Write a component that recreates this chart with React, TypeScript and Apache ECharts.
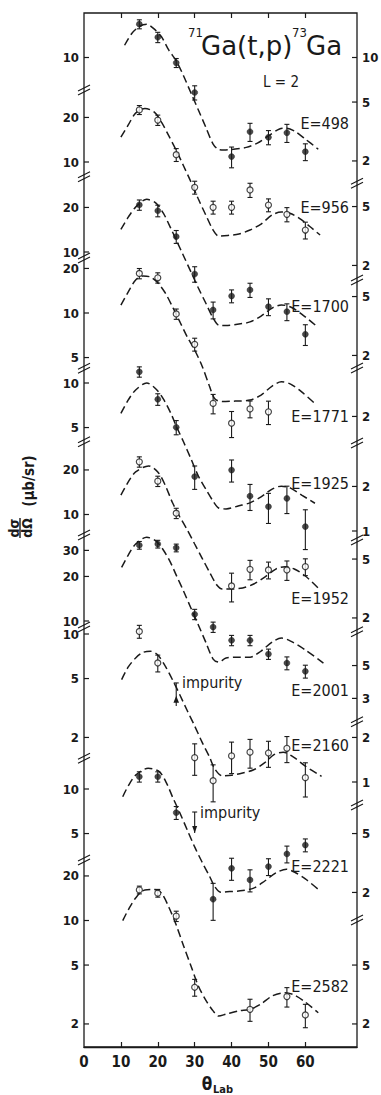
import { useEffect, useRef } from 'react';
import * as echarts from 'echarts';

// ---------------- data ----------------
const energyLabels = ['E=498', 'E=956', 'E=1700', 'E=1771', 'E=1925', 'E=1952', 'E=2001', 'E=2160', 'E=2221', 'E=2582'];
const openMarkers = [false, true, false, true, false, true, false, true, false, true];

const xTickValues = [10, 20, 30, 40, 50, 60];
const xLabelValues = [0, 10, 20, 30, 40, 50, 60];

// E = 498
const theta1 = [15, 20, 25, 30, 40, 45, 50, 55, 60];
const sigma1 = [16.8, 13.7, 9.2, 5.8, 2.14, 3.15, 2.89, 3.1, 2.31];
const err1 = [7, 8, 7, 11, 16, 14, 11, 14, 13];
const curveTheta1 = [11, 13, 15, 17, 19, 21, 23, 25, 27, 29, 31, 33, 35, 36.5, 38, 41, 44, 47, 50, 53, 55, 57, 60, 63.5];
const curveSigma1 = [12.1, 14.6, 16.2, 16.8, 15.6, 13.8, 11.2, 9.5, 7.5, 5.75, 4.42, 3.39, 2.6, 2.39, 2.37, 2.41, 2.47, 2.64, 2.95, 3.29, 3.33, 3.19, 2.81, 2.4];
const leftTicks1 = [10];
const rightTicks1 = [10, 5, 2];

// E = 956
const theta2 = [15, 20, 25, 30, 35, 40, 45, 50, 55, 60];
const sigma2 = [22.5, 19.2, 11.2, 6.74, 4.94, 4.94, 6.47, 5.12, 4.43, 3.47];
const err2 = [7, 8, 10, 10, 10, 10, 11, 10, 11, 13];
const curveTheta2 = [10, 12, 14, 16.5, 19, 21, 23, 25, 27, 29, 31, 33, 35, 36.5, 39, 42, 45, 48, 51, 53.5, 56, 59, 62, 64];
const curveSigma2 = [14.7, 17.8, 21.4, 23.0, 21.8, 18.6, 15.0, 12.0, 9.4, 7.33, 5.62, 4.39, 3.47, 3.16, 3.19, 3.26, 3.47, 3.81, 4.39, 4.59, 4.49, 4.06, 3.53, 3.21];
const leftTicks2 = [20, 10];
const rightTicks2 = [5, 2];

// E = 1700
const theta3 = [15, 20, 25, 30, 35, 40, 45, 50, 55, 60];
const sigma3 = [20.8, 19.0, 12.7, 7.1, 4.06, 5.04, 5.54, 4.27, 3.95, 2.78];
const err3 = [8, 9, 10, 12, 13, 10, 11, 13, 13, 16];
const curveTheta3 = [10, 12, 14, 17, 19.5, 21.5, 23.5, 25, 27, 29, 31, 33, 35, 36.5, 38.5, 42, 45, 48, 51, 53.5, 56, 59, 63];
const curveSigma3 = [14.2, 17.2, 20.1, 22.7, 21.4, 18.3, 14.5, 12.05, 9.4, 7.33, 5.71, 4.52, 3.58, 3.21, 3.19, 3.26, 3.37, 3.69, 4.18, 4.39, 4.25, 3.81, 3.16];
const leftTicks3 = [20, 10];
const rightTicks3 = [5, 2];

// E = 1771
const theta4 = [15, 20, 25, 30, 35, 40, 45, 50];
const sigma4 = [18.5, 17.3, 9.85, 6.14, 2.45, 1.8, 2.25, 2.15];
const err4 = [8, 8, 8, 10, 15, 20, 13, 18];
const curveTheta4 = [10, 12, 14, 16, 18, 20, 22, 24, 26, 28, 30, 32, 34, 35.5, 37.5, 41, 45, 48, 51, 53.5, 56, 59, 63];
const curveSigma4 = [11.3, 13.9, 16.7, 17.8, 17.5, 16.0, 13.7, 11.0, 8.7, 6.88, 5.62, 4.39, 3.21, 2.62, 2.52, 2.54, 2.58, 2.79, 3.21, 3.43, 3.31, 2.93, 2.39];
const leftTicks4 = [20, 10, 5];
const rightTicks4 = [2];

// E = 1925
const theta5 = [15, 20, 25, 30, 40, 45, 50, 55, 60];
const sigma5 = [11.9, 7.76, 5.02, 2.33, 2.58, 1.72, 1.46, 1.66, 1.07];
const err5 = [8, 9, 11, 18, 17, 20, 23, 21, 30];
const curveTheta5 = [10, 12, 14, 17, 19.5, 21.5, 23.5, 25, 27, 29, 31, 33, 35, 36.5, 38.5, 42, 45, 48, 51, 53.5, 56, 59, 62.6];
const curveSigma5 = [6.24, 7.68, 8.97, 10.0, 9.11, 7.8, 6.27, 5.12, 3.99, 3.07, 2.35, 1.92, 1.59, 1.43, 1.41, 1.48, 1.55, 1.7, 1.92, 2.01, 1.95, 1.75, 1.54];
const leftTicks5 = [10, 5];
const rightTicks5 = [2, 1];

// E = 1952
const theta6 = [15, 20, 25, 40, 45, 50, 55, 60];
const sigma6 = [22.7, 16.8, 10.2, 3.29, 4.26, 4.22, 4.22, 4.44];
const err6 = [8, 8, 8, 22, 15, 13, 15, 13];
const curveTheta6 = [10, 12, 14, 17.5, 20, 22, 24, 26, 28, 30, 32, 34, 36, 37.5, 40, 43, 46, 49, 52, 54.5, 57, 60, 64];
const curveSigma6 = [13.5, 16.6, 19.4, 21.3, 19.4, 15.8, 12.0, 9.62, 7.86, 6.32, 5.08, 4.09, 3.34, 3.14, 3.14, 3.19, 3.39, 3.78, 4.28, 4.44, 4.28, 3.84, 3.09];
const leftTicks6 = [20, 10];
const rightTicks6 = [5, 2];

// E = 2001
const theta7 = [15, 20, 25, 30, 35, 40, 45, 50, 55, 60];
const sigma7 = [32.5, 33.1, 31.2, 11.1, 9.1, 7.4, 7.4, 5.98, 5.2, 4.57];
const err7 = [6, 6, 6, 8, 8, 8, 8, 8, 10, 10];
const curveTheta7 = [10.2, 12, 14, 17, 19.5, 21.5, 23.5, 25, 27, 29, 31, 33, 35, 36.5, 38.5, 42, 45, 48, 51, 53.5, 56, 60, 64.9];
const curveSigma7 = [23.0, 27.9, 33.1, 36.8, 34.7, 30.2, 24.7, 20.4, 15.9, 12.2, 9.4, 7.2, 5.53, 5.28, 5.62, 5.7, 5.7, 6.27, 7.2, 7.67, 7.32, 6.37, 5.2];
const leftTicks7 = [30, 20, 10];
const rightTicks7 = [5, 3];

// E = 2160
const theta8 = [15, 20, 30, 35, 40, 45, 50, 55, 60];
const sigma8 = [10.4, 6.37, 1.46, 1.02, 1.5, 1.59, 1.57, 1.69, 1.07];
const err8 = [10, 13, 24, 28, 24, 22, 20, 20, 26];
const curveTheta8 = [10.2, 12, 14, 16, 18, 20, 22, 24, 26, 28, 30, 32, 34, 35.5, 37.5, 40, 43, 46, 49, 51.5, 54, 57, 60, 64.4];
const curveSigma8 = [4.92, 5.99, 6.89, 7.51, 7.65, 7.22, 6.08, 4.9, 3.87, 3.03, 2.39, 1.86, 1.48, 1.22, 1.1, 1.11, 1.15, 1.21, 1.35, 1.53, 1.59, 1.46, 1.28, 1.09];
const leftTicks8 = [10, 5, 2];
const rightTicks8 = [2, 1];

// E = 2221
const theta9 = [15, 20, 25, 35, 40, 45, 50, 55, 60];
const sigma9 = [12.1, 12.1, 6.92, 1.8, 2.91, 2.43, 2.99, 3.64, 4.18];
const err9 = [8, 8, 10, 28, 17, 17, 13, 13, 10];
const curveTheta9 = [10.5, 12, 14, 17.4, 20.4, 22.5, 24, 26, 28, 30, 32, 34, 35.5, 37, 40, 43, 46, 49, 52, 54.9, 57, 60, 63.5];
const curveSigma9 = [8.87, 10.5, 12.4, 13.8, 13.1, 10.8, 8.83, 6.88, 5.28, 4.06, 3.21, 2.58, 2.18, 2.01, 2.03, 2.06, 2.14, 2.39, 2.71, 2.87, 2.75, 2.47, 2.1];
const leftTicks9 = [10, 5];
const rightTicks9 = [5, 2];

// E = 2582
const theta10 = [15, 20, 25, 30, 45, 55, 60];
const sigma10 = [16.1, 15.3, 10.7, 3.54, 2.51, 3.06, 2.3];
const err10 = [6, 6, 8, 13, 17, 15, 18];
const curveTheta10 = [10.5, 12, 14, 16.5, 19, 21, 23, 25, 27, 29, 31, 33, 35, 36.5, 38.5, 42, 45, 48, 51, 54.5, 57, 60, 63.5];
const curveSigma10 = [9.97, 11.8, 14.2, 16.1, 16.2, 15.3, 12.3, 9.32, 6.73, 4.93, 3.61, 2.9, 2.45, 2.26, 2.33, 2.45, 2.51, 2.73, 3.09, 3.25, 3.14, 2.81, 2.38];
const leftTicks10 = [20, 10, 5, 2];
const rightTicks10 = [5, 2];

// "impurity" markers (panel index, angle, bar top, bar bottom, head value, head direction)
const impurityPanel = [7, 8];
const impurityTheta = [25, 30];
const impurityTop = [4.67, 6.99];
const impurityBottom = [3.26, 5.04];
const impurityHead = [3.59, 5.04];
const impurityDir = [-1, 1];

// ---------------- layout ----------------
const W = 381;
const H = 1095;
const PLOT = { left: 84, top: 13, width: 273, height: 1034 };
const X_MAX = 74;
const DECADE_PX = 148;
const panelTenPx = [57.5, 162, 252, 313, 383, 514.5, 621, 634, 789, 920.5];
const labelPx = [123, 207.7, 306, 416.7, 483.3, 598.3, 690, 745, 866.7, 986.7];
const leftBreakPx = [90, 176.7, 258, 368.3, 441.7, 535, 627, 758.3, 860];
const rightBreakPx = [183.3, 280, 368, 443, 540, 631.7, 721.7, 805, 920];

const INK = '#1a1a1a';
const FONT = '"DejaVu Sans Condensed", "DejaVu Sans", sans-serif';
const FONT_WIDE = '"DejaVu Sans", sans-serif';

const panels = [
  { theta: theta1, sigma: sigma1, err: err1, ct: curveTheta1, cs: curveSigma1, left: leftTicks1, right: rightTicks1 },
  { theta: theta2, sigma: sigma2, err: err2, ct: curveTheta2, cs: curveSigma2, left: leftTicks2, right: rightTicks2 },
  { theta: theta3, sigma: sigma3, err: err3, ct: curveTheta3, cs: curveSigma3, left: leftTicks3, right: rightTicks3 },
  { theta: theta4, sigma: sigma4, err: err4, ct: curveTheta4, cs: curveSigma4, left: leftTicks4, right: rightTicks4 },
  { theta: theta5, sigma: sigma5, err: err5, ct: curveTheta5, cs: curveSigma5, left: leftTicks5, right: rightTicks5 },
  { theta: theta6, sigma: sigma6, err: err6, ct: curveTheta6, cs: curveSigma6, left: leftTicks6, right: rightTicks6 },
  { theta: theta7, sigma: sigma7, err: err7, ct: curveTheta7, cs: curveSigma7, left: leftTicks7, right: rightTicks7 },
  { theta: theta8, sigma: sigma8, err: err8, ct: curveTheta8, cs: curveSigma8, left: leftTicks8, right: rightTicks8 },
  { theta: theta9, sigma: sigma9, err: err9, ct: curveTheta9, cs: curveSigma9, left: leftTicks9, right: rightTicks9 },
  { theta: theta10, sigma: sigma10, err: err10, ct: curveTheta10, cs: curveSigma10, left: leftTicks10, right: rightTicks10 },
];

const valueAtPx = (tenPx: number, px: number) => 10 * Math.pow(10, (tenPx - px) / DECADE_PX);

function buildOption() {
  const grid: any[] = [];
  const xAxis: any[] = [];
  const yAxis: any[] = [];
  const series: any[] = [];

  panels.forEach((p, i) => {
    grid.push({
      left: PLOT.left, top: PLOT.top, width: PLOT.width, height: PLOT.height,
      show: i === 0, borderColor: INK, borderWidth: 1.3, backgroundColor: 'transparent',
    });
    xAxis.push({
      type: 'value', gridIndex: i, min: 0, max: X_MAX, show: i === 0, position: 'bottom',
      axisLine: { show: true, onZero: false, lineStyle: { color: INK, width: 1.3 } },
      axisTick: { show: true, inside: true, length: 5, customValues: xTickValues, lineStyle: { color: INK, width: 1.2 } },
      axisLabel: { show: true, customValues: xLabelValues, margin: 7, color: INK, fontSize: 15, fontWeight: 'bold', fontFamily: FONT },
      splitLine: { show: false },
    });
    yAxis.push({
      type: 'log', logBase: 10, gridIndex: i, show: false,
      min: valueAtPx(panelTenPx[i], PLOT.top + PLOT.height),
      max: valueAtPx(panelTenPx[i], PLOT.top),
      splitLine: { show: false },
    });

    // theory curve (dashed)
    series.push({
      type: 'line', xAxisIndex: i, yAxisIndex: i, silent: true, z: 2,
      data: p.ct.map((t, k) => [t, p.cs[k]]),
      smooth: 0.3, symbol: 'none', showSymbol: false,
      lineStyle: { color: INK, width: 1.5, type: [8, 4] },
    });
    // error bars
    series.push({
      type: 'custom', xAxisIndex: i, yAxisIndex: i, silent: true, z: 3, clip: false,
      data: p.theta.map((t, k) => [t, p.sigma[k] * (1 - p.err[k] / 100), p.sigma[k] * (1 + p.err[k] / 100)]),
      renderItem: (_params: any, api: any) => {
        const t = api.value(0);
        const a = api.coord([t, api.value(2)]);
        const b = api.coord([t, api.value(1)]);
        const s = { stroke: INK, lineWidth: 1.1 };
        return {
          type: 'group',
          children: [
            { type: 'line', shape: { x1: a[0], y1: a[1], x2: b[0], y2: b[1] }, style: s },
            { type: 'line', shape: { x1: a[0] - 2.5, y1: a[1], x2: a[0] + 2.5, y2: a[1] }, style: s },
            { type: 'line', shape: { x1: b[0] - 2.5, y1: b[1], x2: b[0] + 2.5, y2: b[1] }, style: s },
          ],
        };
      },
    });
    // data points
    series.push({
      type: 'scatter', xAxisIndex: i, yAxisIndex: i, silent: true, z: 4,
      data: p.theta.map((t, k) => [t, p.sigma[k]]),
      symbol: 'circle', symbolSize: 6,
      itemStyle: openMarkers[i]
        ? { color: '#ffffff', borderColor: INK, borderWidth: 1.2 }
        : { color: INK, borderColor: INK, borderWidth: 0.5 },
    });
    // y ticks + labels of this panel (left side -1, right side +1)
    series.push({
      type: 'custom', xAxisIndex: i, yAxisIndex: i, silent: true, z: 5, clip: false,
      data: [...p.left.map((v) => [0, v, -1]), ...p.right.map((v) => [X_MAX, v, 1])],
      renderItem: (_params: any, api: any) => {
        const v = api.value(1);
        const side = api.value(2);
        const c = api.coord([api.value(0), v]);
        return {
          type: 'group',
          children: [
            { type: 'line', shape: { x1: c[0], y1: c[1], x2: c[0] - side * 5, y2: c[1] }, style: { stroke: INK, lineWidth: 1.2 } },
            {
              type: 'text', x: c[0] + side * 5, y: c[1],
              style: {
                text: String(v), align: side < 0 ? 'right' : 'left', verticalAlign: 'middle',
                fill: INK, fontSize: 13, fontWeight: 'bold', fontFamily: FONT,
              },
            },
          ],
        };
      },
    });
  });

  // top frame ticks
  xAxis.push({
    type: 'value', gridIndex: 0, min: 0, max: X_MAX, position: 'top',
    axisLine: { show: false },
    axisTick: { show: true, inside: true, length: 5, customValues: xTickValues, lineStyle: { color: INK, width: 1.2 } },
    axisLabel: { show: false },
    splitLine: { show: false },
  });

  // impurity arrows
  impurityPanel.forEach((pi, k) => {
    series.push({
      type: 'custom', xAxisIndex: pi, yAxisIndex: pi, silent: true, z: 5, clip: false,
      data: [[impurityTheta[k], impurityTop[k], impurityBottom[k], impurityHead[k], impurityDir[k]]],
      renderItem: (_params: any, api: any) => {
        const t = api.value(0);
        const a = api.coord([t, api.value(1)]);
        const b = api.coord([t, api.value(2)]);
        const h = api.coord([t, api.value(3)]);
        const dir = api.value(4);
        const s = { stroke: INK, lineWidth: 1.1 };
        const head = dir < 0
          ? [[h[0], h[1] - 4], [h[0] - 2.8, h[1] + 3], [h[0] + 2.8, h[1] + 3]]
          : [[h[0], h[1]], [h[0] - 2.5, h[1] - 7], [h[0] + 2.5, h[1] - 7]];
        return {
          type: 'group',
          children: [
            { type: 'line', shape: { x1: a[0], y1: a[1], x2: b[0], y2: b[1] }, style: s },
            { type: 'line', shape: { x1: a[0] - 2.5, y1: a[1], x2: a[0] + 2.5, y2: a[1] }, style: s },
            { type: 'polygon', shape: { points: head }, style: { fill: INK } },
          ],
        };
      },
    });
  });

  // graphic annotations
  const graphic: any[] = [];
  energyLabels.forEach((txt, i) => {
    graphic.push({
      type: 'text', x: 349, y: labelPx[i], z: 10,
      style: { text: txt, align: 'right', verticalAlign: 'middle', fill: INK, fontSize: 16, fontFamily: FONT },
    });
  });
  const brk = (x: number, y: number) => [
    { type: 'line', shape: { x1: x - 6, y1: y + 1, x2: x + 6, y2: y - 5 }, style: { stroke: INK, lineWidth: 1.2 }, z: 10 },
    { type: 'line', shape: { x1: x - 6, y1: y + 5, x2: x + 6, y2: y - 1 }, style: { stroke: INK, lineWidth: 1.2 }, z: 10 },
  ];
  leftBreakPx.forEach((y) => graphic.push(...brk(PLOT.left, y)));
  rightBreakPx.forEach((y) => graphic.push(...brk(PLOT.left + PLOT.width, y)));

  // title
  graphic.push(
    { type: 'text', x: 188, y: 32, style: { text: '71', align: 'left', verticalAlign: 'middle', fill: INK, fontSize: 13, fontFamily: FONT } },
    { type: 'text', x: 201, y: 46, style: { text: 'Ga(t,p)', align: 'left', verticalAlign: 'middle', fill: INK, fontSize: 26, fontFamily: FONT_WIDE } },
    { type: 'text', x: 292, y: 32, style: { text: '73', align: 'left', verticalAlign: 'middle', fill: INK, fontSize: 13, fontFamily: FONT } },
    { type: 'text', x: 306, y: 46, style: { text: 'Ga', align: 'left', verticalAlign: 'middle', fill: INK, fontSize: 26, fontFamily: FONT_WIDE } },
    { type: 'text', x: 263, y: 82, style: { text: 'L = 2', align: 'left', verticalAlign: 'middle', fill: INK, fontSize: 15, fontFamily: FONT } },
    { type: 'text', x: 182, y: 682.5, style: { text: 'impurity', align: 'left', verticalAlign: 'middle', fill: INK, fontSize: 16, fontFamily: FONT } },
    { type: 'text', x: 200, y: 812.5, style: { text: 'impurity', align: 'left', verticalAlign: 'middle', fill: INK, fontSize: 16, fontFamily: FONT } },
    // x axis name
    { type: 'text', x: 207, y: 1084, style: { text: 'θ', align: 'center', verticalAlign: 'middle', fill: INK, fontSize: 17, fontWeight: 'bold', fontFamily: FONT } },
    { type: 'text', x: 213, y: 1089, style: { text: 'Lab', align: 'left', verticalAlign: 'middle', fill: INK, fontSize: 11, fontWeight: 'bold', fontFamily: FONT } },
    // y axis name
    {
      type: 'group', x: 20, y: 505, rotation: Math.PI / 2,
      children: [
        { type: 'text', x: 24, y: 9, style: { text: '(μb/sr)', align: 'center', verticalAlign: 'middle', fill: INK, fontSize: 15, fontWeight: 'bold', fontFamily: FONT } },
        { type: 'text', x: -23, y: -6.5, style: { text: 'dσ', align: 'center', verticalAlign: 'middle', fill: INK, fontSize: 14, fontWeight: 'bold', fontFamily: FONT } },
        { type: 'line', shape: { x1: -33, y1: 0, x2: -13, y2: 0 }, style: { stroke: INK, lineWidth: 1.4 } },
        { type: 'text', x: -23, y: 6.5, style: { text: 'dΩ', align: 'center', verticalAlign: 'middle', fill: INK, fontSize: 14, fontWeight: 'bold', fontFamily: FONT } },
      ],
    },
  );

  return {
    animation: false,
    backgroundColor: '#ffffff',
    textStyle: { fontFamily: FONT, color: INK },
    grid, xAxis, yAxis, series, graphic,
  };
}

export default function App() {
  const ref = useRef<HTMLDivElement>(null);
  useEffect(() => {
    document.body.style.margin = '0';
    if (!ref.current) return;
    const chart = echarts.init(ref.current, undefined, { renderer: 'svg' });
    chart.setOption(buildOption() as any);
    return () => chart.dispose();
  }, []);
  return <div ref={ref} style={{ position: 'absolute', left: 0, top: 0, width: W, height: H, background: '#fff' }} />;
}
